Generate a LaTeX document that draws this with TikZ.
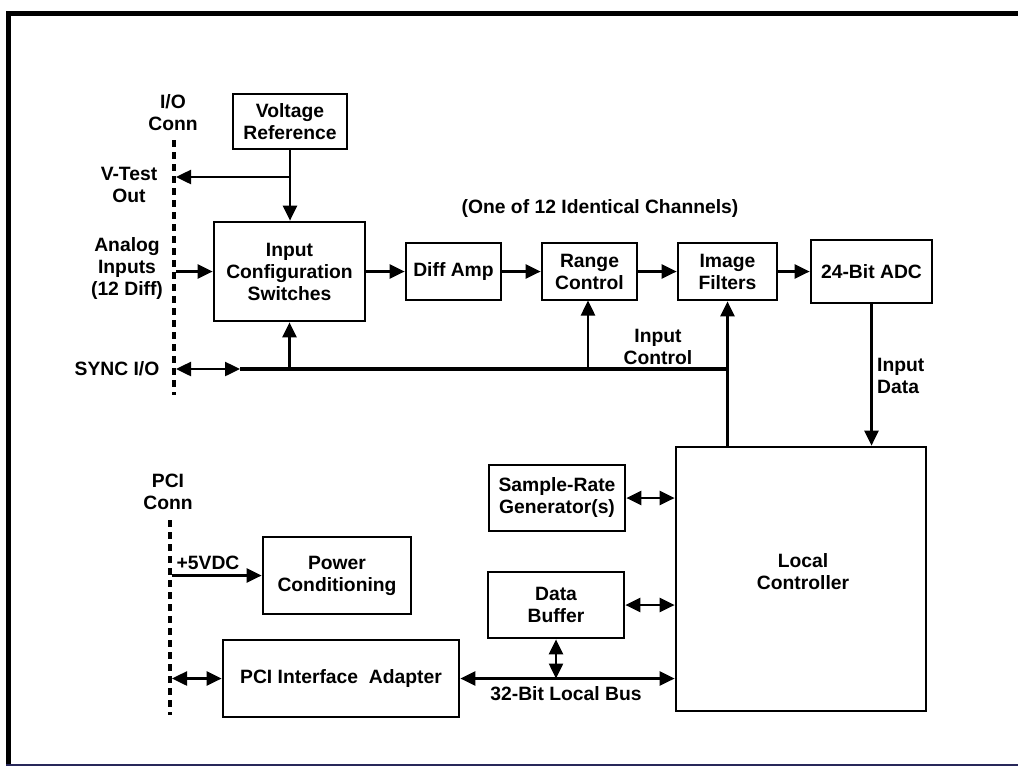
\documentclass[tikz,border=0pt]{standalone}
\usepackage{fontspec}
\setmainfont{Liberation Sans}
\usetikzlibrary{arrows.meta}
\newcommand\dgfont{\fontsize{19.3}{22}\selectfont\bfseries}
\definecolor{framenavy}{RGB}{40,40,90}
\begin{document}
\begin{tikzpicture}[x=1pt,y=-1pt,
  box/.style={draw, line width=2.7pt, inner sep=0pt, align=center, font=\dgfont},
  lbl/.style={inner sep=0pt, align=center, font=\dgfont},
  tipshape/.tip={Triangle[length=15pt,width=14pt]},
  arr/.style={line width=2.5pt, -tipshape},
  darr/.style={line width=2.5pt, tipshape-tipshape},
  busline/.style={line width=3.2pt},
  conndash/.style={line width=3.5pt, dash pattern=on 7pt off 5pt}]
\useasboundingbox (0,0) rectangle (1018,766);
% frame
\draw[line width=5pt, line join=miter] (8.5,766) -- (8.5,13) -- (1018,13);
\draw[line width=1.5pt, framenavy] (6,765) -- (1018,765);

% boxes
\node[box, minimum width=114pt, minimum height=55pt] (vr) at (290,121.5) {Voltage\\Reference};
\node[box, minimum width=151pt, minimum height=99pt] (ics) at (289.5,271.5) {Input\\Configuration\\Switches};
\node[box, minimum width=95pt, minimum height=57pt] (da) at (453.5,271.5) {Diff Amp};
\node[box, minimum width=95pt, minimum height=57pt] (rc) at (589.5,271.5) {Range\\Control};
\node[box, minimum width=99pt, minimum height=57pt] (if) at (727.5,271.5) {Image\\Filters};
\node[box, minimum width=121pt, minimum height=63pt] (adc) at (871.5,271.5) {24-Bit ADC};
\node[box, minimum width=250pt, minimum height=264pt] (lc) at (801,579) {};
\node[lbl] (lctext) at (803,572) {Local\\Controller};
\node[box, minimum width=136pt, minimum height=66pt] (srg) at (557,498) {Sample-Rate\\Generator(s)};
\node[box, minimum width=148pt, minimum height=77pt] (pc) at (337,575.5) {Power\\Conditioning};
\node[box, minimum width=136pt, minimum height=66pt] (db) at (556,605) {Data\\Buffer};
\node[box, minimum width=236pt, minimum height=77pt] (pci) at (341,678.5) {PCI Interface\ \ Adapter};

% connector dashed lines
\coordinate (io1) at (174,140);
\coordinate (io2) at (174,395);
\draw[conndash] (io1) -- (io2);
\coordinate (pc1) at (170,520);
\coordinate (pc2) at (170,715);
\draw[conndash] (pc1) -- (pc2);

% labels
\node[lbl] (ioconn) at (173,113) {I/O\\Conn};
\node[lbl] (vtest) at (129,185) {V-Test\\Out};
\node[lbl] (analog) at (127,269) {Analog\\Inputs\\(12 Diff)};
\node[lbl] (sync) at (117,369) {SYNC I/O};
\node[lbl] (chan) at (600,209) {(One of 12 Identical Channels)};
\node[lbl] (inctl) at (658,347) {Input\\Control};
\node[lbl, anchor=west, align=left] (indata) at (877,376) {Input\\Data};
\node[lbl] (pciconn) at (168,492) {PCI\\Conn};
\node[lbl] (v5) at (208,563) {+5VDC};
\node[lbl] (busl) at (566,694) {32-Bit Local Bus};

% top connections
\coordinate (vt) at (176,177);
\draw[arr] (vr.south) -- (vr.south |- ics.north);
\draw[arr] (vr.south |- vt) -- (vt);
\coordinate (ai) at (176,271.5);
\draw[arr] (ai) -- (ics.west);
\draw[arr] (ics.east) -- (da.west);
\draw[arr] (da.east) -- (rc.west);
\draw[arr] (rc.east) -- (if.west);
\draw[arr] (if.east) -- (adc.west);

% sync / input control bus
\coordinate (s1) at (176,369);
\coordinate (s2) at (240,369);
\draw[darr] (s1) -- (s2);
\draw[busline] (s2) -- (if.south |- s2);
\draw[arr] (ics.south |- s2) -- (ics.south);
\draw[arr] (588,369) -- (588,300.5);
\draw[arr] (if.south |- lc.north) -- (if.south);
\draw[arr] (adc.south) -- (adc.south |- lc.north);

% lower section
\draw[darr] (srg.east) -- (srg.east -| lc.west);
\draw[darr] (db.east) -- (db.east -| lc.west);
\draw[darr] (pci.east) -- (pci.east -| lc.west);
\draw[darr] (db.south) -- (db.south |- pci.east);
\coordinate (pa) at (172,678.5);
\draw[darr] (pa) -- (pci.west);
\coordinate (p5) at (172,575.5);
\draw[arr] (p5) -- (pc.west);
\end{tikzpicture}
\end{document}
